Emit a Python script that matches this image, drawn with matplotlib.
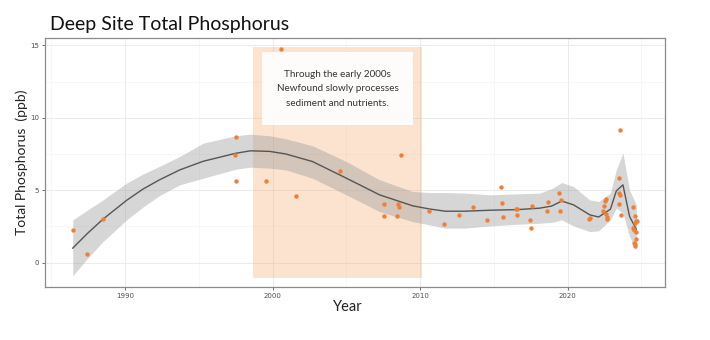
import matplotlib.pyplot as plt
from matplotlib.patches import Rectangle
from matplotlib.ticker import MultipleLocator

# deep site samples: decimal year and total phosphorus (ppb)
sample_year = [1986.45, 1987.42, 1988.48, 1997.53, 1997.48, 1997.53, 1999.57,
               2000.56, 2001.60, 2004.54, 2007.57, 2007.52, 2008.47, 2008.56,
               2008.41, 2008.68, 2010.62, 2011.62, 2012.66, 2013.56, 2014.51,
               2015.46, 2015.53, 2015.62, 2016.48, 2016.57, 2016.60, 2017.45,
               2017.54, 2017.61, 2018.65, 2018.63, 2019.42, 2019.56, 2019.50,
               2021.45, 2021.54, 2022.40, 2022.45, 2022.54, 2022.58, 2022.60,
               2022.67, 2022.70, 2023.58, 2023.47, 2023.49, 2023.58, 2023.45,
               2023.65, 2024.44, 2024.55, 2024.62, 2024.70, 2024.55, 2024.44,
               2024.53, 2024.62, 2024.66, 2024.50, 2024.60, 2024.57]
sample_tp = [2.24, 0.62, 3.04, 8.67, 7.44, 5.65, 5.65,
             14.72, 4.63, 6.36, 4.03, 3.25, 4.03, 3.87,
             3.25, 7.44, 3.55, 2.65, 3.32, 3.85, 2.95,
             5.23, 4.15, 3.14, 3.71, 3.71, 3.32, 2.95,
             2.42, 3.92, 4.22, 3.59, 4.84, 4.33, 3.55,
             3.00, 3.09, 3.57, 3.92, 4.26, 4.38, 3.37,
             3.18, 3.02, 9.17, 5.83, 4.84, 4.68, 4.03,
             3.30, 3.85, 3.23, 2.90, 2.90, 2.76, 2.38,
             2.26, 2.12, 1.62, 1.38, 1.29, 1.17]

# smoothed trend with its confidence band
trend_year = [1986.45, 1987.46, 1988.5, 1990.1, 1991.2, 1992.3, 1993.7, 1995.3,
              1997.5, 1998.5, 1999.8, 2000.9, 2002.7, 2005.0, 2007.25, 2009.5,
              2010.6, 2011.7, 2013.0, 2014.8, 2016.6, 2018.1, 2018.9, 2019.6,
              2020.4, 2021.5, 2022.1, 2022.9, 2023.3, 2023.75, 2024.2, 2024.66]
trend_fit = [1.0, 2.03, 3.0, 4.3, 5.07, 5.7, 6.4, 7.0,
             7.55, 7.72, 7.68, 7.5, 6.98, 5.83, 4.68, 3.92,
             3.71, 3.55, 3.55, 3.62, 3.66, 3.76, 3.9, 4.25,
             3.99, 3.3, 3.15, 3.69, 4.95, 5.37, 3.18, 2.3]
trend_hi = [2.95, 3.64, 4.33, 5.49, 6.11, 6.63, 7.33, 8.25,
            8.76, 8.87, 8.76, 8.55, 8.07, 6.98, 5.72, 4.91,
            4.84, 4.84, 4.8, 4.68, 4.75, 4.8, 5.1, 5.53,
            5.25, 4.33, 4.22, 4.8, 6.41, 7.56, 5.0, 3.99]
trend_lo = [-0.9, 0.3, 1.45, 2.95, 3.83, 4.61, 5.37, 5.83,
            6.45, 6.59, 6.52, 6.4, 5.83, 4.68, 3.52, 2.83,
            2.61, 2.38, 2.38, 2.54, 2.65, 2.72, 2.78, 2.95,
            2.54, 2.14, 2.2, 2.95, 3.76, 3.41, 1.8, 0.88]

# highlighted period
period_start, period_end = 1998.7, 2010.15
period_lo, period_hi = -1.08, 14.9
note = "Through the early 2000s\nNewfound slowly processes\nsediment and nutrients."

fig = plt.figure(figsize=(7.1, 3.4), dpi=100)
ax = fig.add_axes([0.0634, 0.156, 0.8732, 0.731])

ax.add_patch(Rectangle((period_start, period_lo), period_end - period_start,
                       period_hi - period_lo, facecolor='#f4a460', alpha=0.3,
                       edgecolor='none', zorder=1))
ax.add_patch(Rectangle((1999.27, 9.52), 10.26, 4.99, facecolor='white',
                       alpha=0.9, edgecolor='none', zorder=2))
ax.text((1999.27 + 2009.53) / 2, 12.0, note, ha='center', va='center',
        fontsize=7.1, color='#333333', family='Lato', linespacing=1.75,
        zorder=3)

ax.fill_between(trend_year, trend_lo, trend_hi, color='#999999', alpha=0.4,
                linewidth=0, zorder=2)
ax.plot(trend_year, trend_fit, color='#555555', lw=1.0, zorder=3)
ax.scatter(sample_year, sample_tp, s=10, color='#f07f35', linewidths=0,
           zorder=4)

ax.set_xlim(1984.57, 2026.6)
ax.set_ylim(-1.68, 15.48)
ax.xaxis.set_major_locator(MultipleLocator(10))
ax.xaxis.set_minor_locator(MultipleLocator(5))
ax.yaxis.set_major_locator(MultipleLocator(5))
ax.yaxis.set_minor_locator(MultipleLocator(2.5))
ax.grid(True, which='major', color='#ebebeb', lw=0.7, zorder=0)
ax.grid(True, which='minor', color='#f2f2f2', lw=0.4, zorder=0)
ax.set_axisbelow(True)
ax.tick_params(which='major', length=2.5, width=0.5, color='#333333',
               labelsize=5, labelcolor='#4d4d4d', pad=2)
ax.tick_params(which='minor', length=0)
for s in ax.spines.values():
    s.set_color('#8a8a8a')
    s.set_linewidth(0.9)

ax.set_xlabel('Year', family='Lato', fontsize=10.5, color='#222222')
ax.xaxis.set_label_coords(0.489, -0.052)
ax.set_ylabel('Total Phosphorus  (ppb)', family='Lato', fontsize=10,
              color='#222222')
ax.yaxis.set_label_coords(-0.027, 0.5)
fig.text(0.0705, 0.912, 'Deep Site Total Phosphorus', family='Lato',
         fontsize=14, color='#111111', ha='left', va='baseline')

fig.savefig('out.png', dpi=100)
